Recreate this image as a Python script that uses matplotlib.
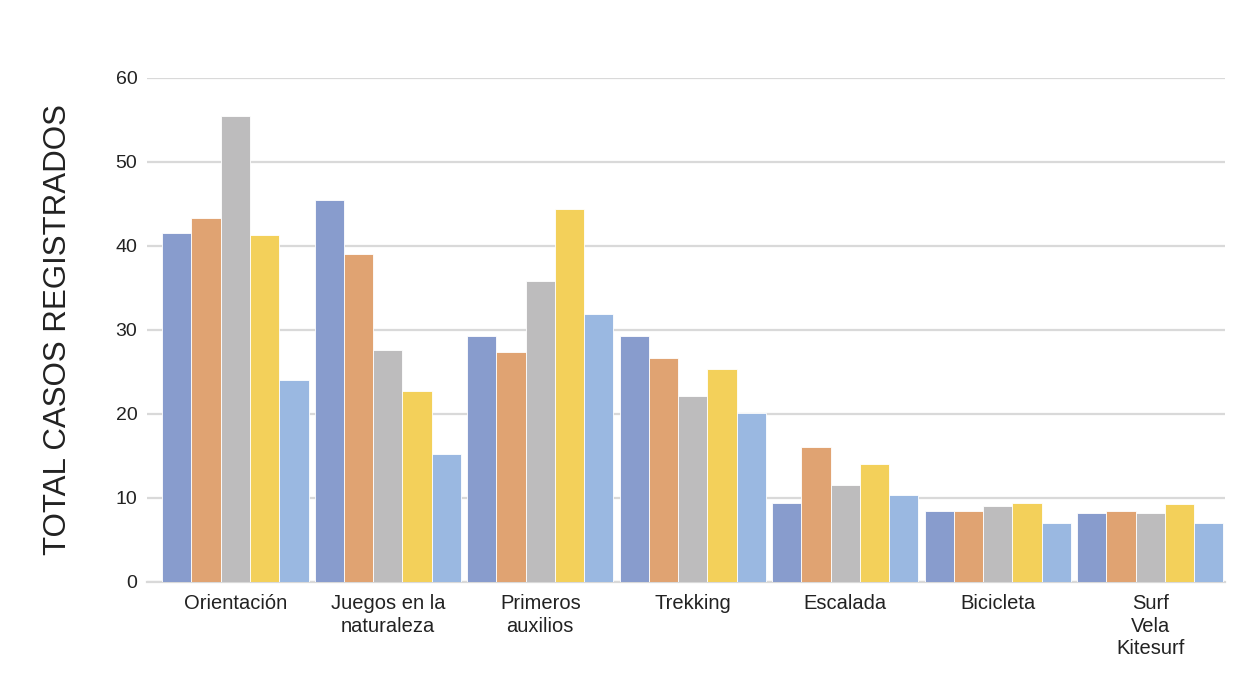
import numpy as np
import matplotlib.pyplot as plt

plt.rcParams['font.family'] = ['Liberation Sans', 'DejaVu Sans']

categorias = ['Orientación', 'Juegos en la\nnaturaleza', 'Primeros\nauxilios', 'Trekking',
              'Escalada', 'Bicicleta', 'Surf\nVela\nKitesurf']
serie_1 = [41.5, 45.5, 29.3, 29.3, 9.4, 8.5, 8.2]
serie_2 = [43.3, 39.0, 27.4, 26.7, 16.1, 8.5, 8.4]
serie_3 = [55.5, 27.6, 35.8, 22.1, 11.6, 9.1, 8.2]
serie_4 = [41.3, 22.7, 44.4, 25.3, 14.1, 9.4, 9.3]
serie_5 = [24.1, 15.2, 31.9, 20.1, 10.3, 7.0, 7.0]

series = [serie_1, serie_2, serie_3, serie_4, serie_5]
colores = ['#889ccd', '#e0a372', '#bdbcbd', '#f3d05a', '#9ab8e1']

fig = plt.figure(figsize=(12.6, 7), dpi=100)
ax = fig.add_axes([0.1167, 0.1686, 0.8555, 0.72])

x = np.arange(len(categorias))
w = 0.192
for i, (s, c) in enumerate(zip(series, colores)):
    ax.bar(x + (i - 2) * w, s, width=w, color=c, edgecolor='white', linewidth=0.6, zorder=3)

ax.set_xlim(-0.579, 6.49)
ax.set_ylim(0, 60)
ax.set_yticks(range(0, 61, 10))
ax.yaxis.grid(True, color='#d9d9d9', linewidth=1.6, zorder=0)
ax.set_xticks(x)
ax.set_xticklabels(categorias, fontsize=14.5, color='#222222', linespacing=1.22)
ax.tick_params(axis='y', labelsize=14, labelcolor='#222222', length=0, pad=7)
ax.tick_params(axis='x', length=0, pad=9)

for sp in ['top', 'right', 'left']:
    ax.spines[sp].set_visible(False)
ax.spines['bottom'].set_color('#d9d9d9')
ax.spines['bottom'].set_linewidth(1.6)

ax.set_ylabel('TOTAL CASOS REGISTRADOS', fontsize=22.5, color='#222222')
ax.yaxis.set_label_coords(-0.0686, 0.5)

fig.savefig('out.png', dpi=100)
